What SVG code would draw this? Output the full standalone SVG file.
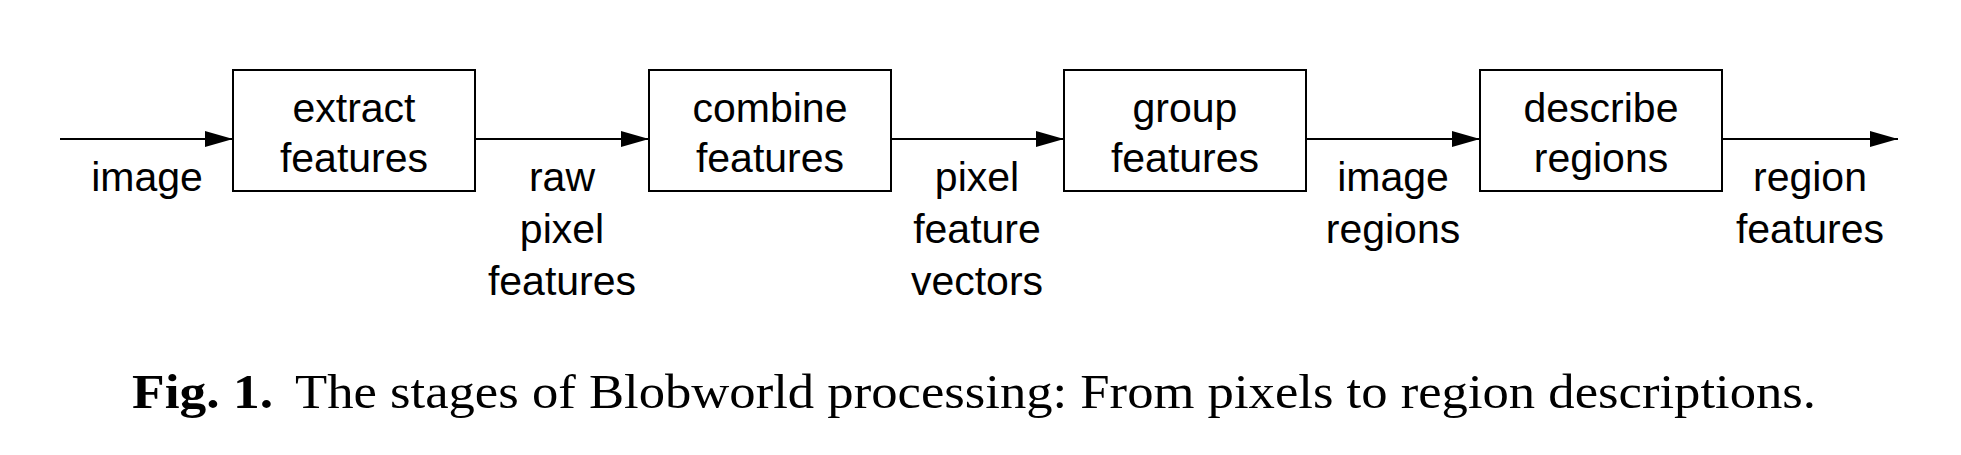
<svg xmlns="http://www.w3.org/2000/svg" width="1961" height="455" viewBox="0 0 1961 455">
<style>
.box{fill:#fff;stroke:#000;stroke-width:2}
.lbl{font-family:"Liberation Sans",Arial,sans-serif;font-size:41px;fill:#000;text-anchor:middle}
.edge{stroke:#000;stroke-width:2;fill:none;marker-end:url(#ah)}
.cap{font-family:"Liberation Serif","Times New Roman",serif;font-size:48px;fill:#000}
</style>
<defs>
<marker id="ah" markerWidth="28" markerHeight="16" refX="28" refY="8" orient="auto" markerUnits="userSpaceOnUse">
<path d="M0,0 L28,8 L0,16 Z" fill="#000"/>
</marker>
</defs>
<rect width="1961" height="455" fill="#fff"/>
<g id="connectors">
<line class="edge" x1="60" y1="139" x2="233" y2="139"/>
<line class="edge" x1="475" y1="139" x2="649" y2="139"/>
<line class="edge" x1="891" y1="139" x2="1064" y2="139"/>
<line class="edge" x1="1306" y1="139" x2="1480" y2="139"/>
<line class="edge" x1="1722" y1="139" x2="1898" y2="139"/>
<text class="lbl" x="147" y="191">image</text>
<text class="lbl" x="562" y="191">raw</text>
<text class="lbl" x="562" y="243">pixel</text>
<text class="lbl" x="562" y="295">features</text>
<text class="lbl" x="977" y="191">pixel</text>
<text class="lbl" x="977" y="243">feature</text>
<text class="lbl" x="977" y="295">vectors</text>
<text class="lbl" x="1393" y="191">image</text>
<text class="lbl" x="1393" y="243">regions</text>
<text class="lbl" x="1810" y="191">region</text>
<text class="lbl" x="1810" y="243">features</text>
</g>
<g id="extract">
<rect class="box" x="233" y="70" width="242" height="121"/>
<text class="lbl" x="354" y="122">extract</text>
<text class="lbl" x="354" y="172">features</text>
</g>
<g id="combine">
<rect class="box" x="649" y="70" width="242" height="121"/>
<text class="lbl" x="770" y="122">combine</text>
<text class="lbl" x="770" y="172">features</text>
</g>
<g id="group">
<rect class="box" x="1064" y="70" width="242" height="121"/>
<text class="lbl" x="1185" y="122">group</text>
<text class="lbl" x="1185" y="172">features</text>
</g>
<g id="describe">
<rect class="box" x="1480" y="70" width="242" height="121"/>
<text class="lbl" x="1601" y="122">describe</text>
<text class="lbl" x="1601" y="172">regions</text>
</g>
<g id="caption">
<text class="cap" x="132" y="408" font-weight="bold" textLength="141" lengthAdjust="spacingAndGlyphs">Fig. 1.</text>
<text class="cap" x="295" y="408" textLength="1521" lengthAdjust="spacingAndGlyphs">The stages of Blobworld processing: From pixels to region descriptions.</text>
</g>
</svg>
